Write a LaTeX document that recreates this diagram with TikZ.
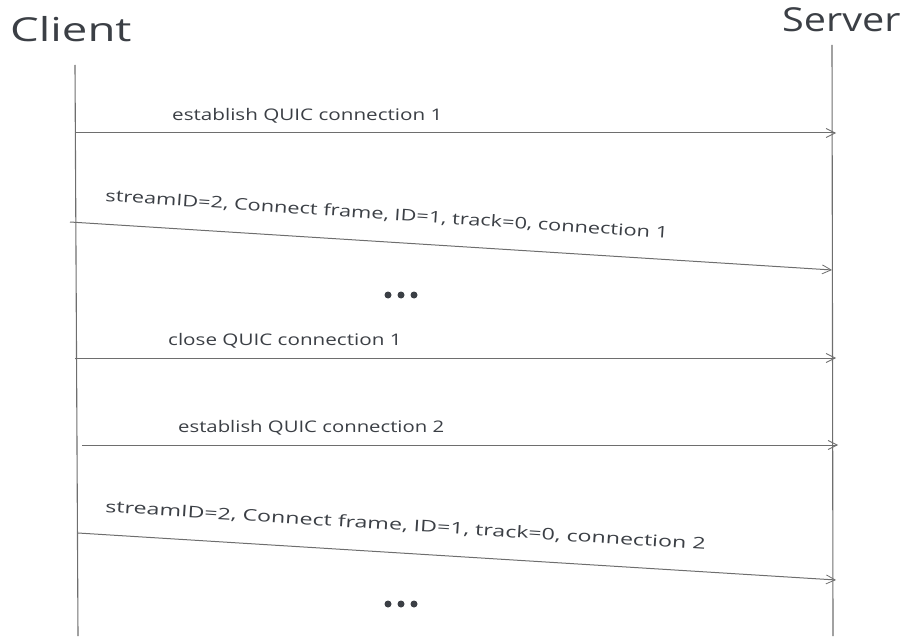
\documentclass[tikz,border=0pt]{standalone}
\usepackage{fontspec}
\setmainfont{Open Sans}
\usetikzlibrary{arrows.meta}
\definecolor{ink}{HTML}{3B3F45}
\definecolor{wire}{HTML}{6E6E6E}
\begin{document}
\begin{tikzpicture}[x=1pt,y=-1pt,
  lifeline/.style={draw=wire,line width=1.1pt},
  msg/.style={draw=wire,line width=1pt,-{Straight Barb[length=9pt,width=9pt,line width=0.8pt]}},
  actor/.style={text=ink,font=\fontsize{33}{35}\selectfont,inner sep=0pt,anchor=base west},
  lbl/.style={text=ink,font=\fontsize{16}{18}\selectfont,inner sep=0pt,anchor=base west},
  dots/.style={fill=ink,circle,inner sep=0pt,minimum size=7pt}]
\useasboundingbox (0,0) rectangle (904,639);
% actors
\node[actor] (client) at (10,42) {\scalebox{1.38}[1]{Client}};
\node[actor] (server) at (782,32) {\scalebox{1.2}[1]{Server}};
% lifelines
\coordinate (ctop) at (75,65);
\coordinate (cbot) at (78,636);
\coordinate (stop) at (832,45);
\coordinate (sbot) at (833,636);
\draw[lifeline] (ctop) -- (cbot);
\draw[lifeline] (stop) -- (sbot);
% message 1
\coordinate (m1a) at (75,133); \coordinate (m1b) at (836,133);
\draw[msg] (m1a) -- (m1b);
\node[lbl] (l1) at (172,121) {\scalebox{1.29}[1]{establish QUIC connection 1}};
% message 2
\coordinate (m2a) at (70,222); \coordinate (m2b) at (832,270);
\draw[msg] (m2a) -- (m2b);
\node[lbl,rotate=-3.8] (l2) at (105,201) {\scalebox{1.36}[1]{streamID=2, Connect frame, ID=1, track=0, connection 1}};
% dots
\node[dots] (d1a) at (388,295) {};
\node[dots] (d1b) at (401,295) {};
\node[dots] (d1c) at (414,295) {};
% message 3
\coordinate (m3a) at (75,358); \coordinate (m3b) at (836,358);
\draw[msg] (m3a) -- (m3b);
\node[lbl] (l3) at (168,345) {\scalebox{1.29}[1]{close QUIC connection 1}};
% message 4
\coordinate (m4a) at (82,445); \coordinate (m4b) at (838,445);
\draw[msg] (m4a) -- (m4b);
\node[lbl] (l4) at (178,432) {\scalebox{1.27}[1]{establish QUIC connection 2}};
% message 5
\coordinate (m5a) at (78,533); \coordinate (m5b) at (836,580);
\draw[msg] (m5a) -- (m5b);
\node[lbl,rotate=-3.6] (l5) at (105,512) {\scalebox{1.45}[1]{streamID=2, Connect frame, ID=1, track=0, connection 2}};
% dots
\node[dots] (d2a) at (388,604) {};
\node[dots] (d2b) at (401,604) {};
\node[dots] (d2c) at (414,604) {};
\end{tikzpicture}
\end{document}
